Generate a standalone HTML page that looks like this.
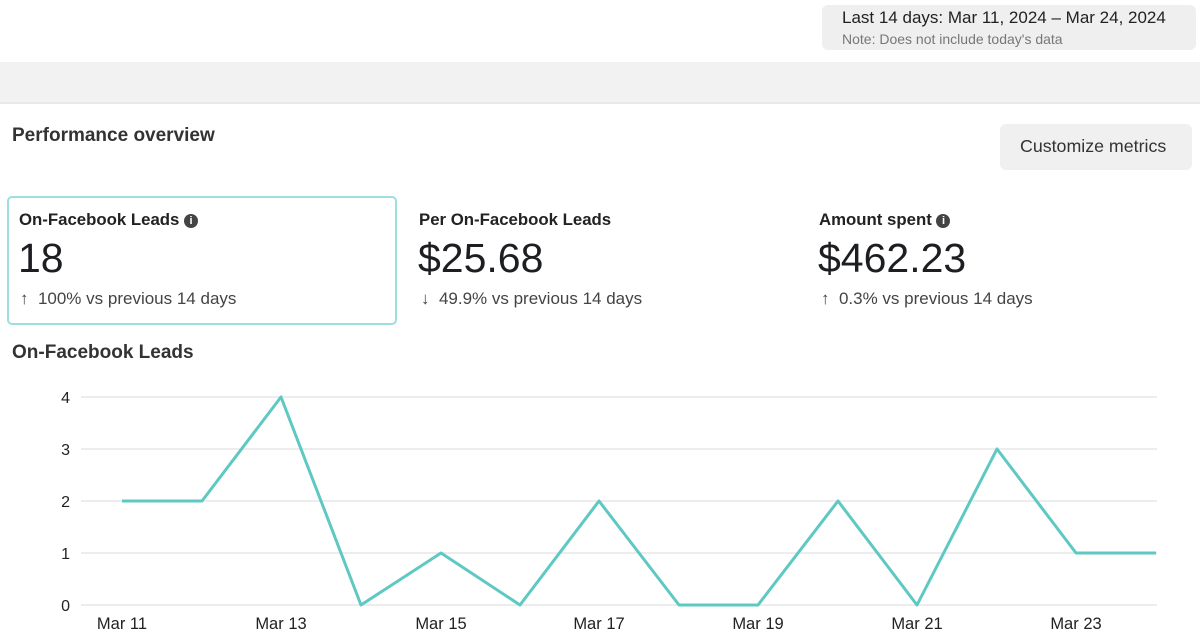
<!DOCTYPE html>
<html><head><style>
body{margin:0;width:1200px;height:643px;background:#fff;font-family:"Liberation Sans",sans-serif;color:#1c1e21;position:relative;overflow:hidden}
.a{position:absolute;white-space:nowrap}
.i{display:inline-block;width:14px;height:14px;border-radius:50%;background:#444;color:#fff;font-size:11px;text-align:center;line-height:14px;vertical-align:1px}
</style></head><body>
<div class="a" style="left:822px;top:5px;width:374px;height:45px;background:#efefef;border-radius:6px"></div>
<div class="a" style="left:842px;top:8px;font-size:17px;color:#222">Last 14 days: Mar 11, 2024 – Mar 24, 2024</div>
<div class="a" style="left:842px;top:31px;font-size:14px;color:#777">Note: Does not include today's data</div>
<div class="a" style="left:0;top:62px;width:1200px;height:40px;background:#f2f2f2;border-bottom:2px solid #e8e8e8"></div>
<div class="a" style="left:12px;top:125px;font-size:19px;font-weight:bold;color:#333">Performance overview</div>
<div class="a" style="left:1000px;top:124px;width:192px;height:46px;background:#f0f0f0;border-radius:6px"></div>
<div class="a" style="left:1020px;top:136px;font-size:17.8px;color:#333">Customize metrics</div>
<div class="a" style="left:7px;top:196px;width:386px;height:125px;border:2px solid #9bdfe0;border-radius:5px"></div>
<div class="a" style="left:19px;top:210px;font-size:16.8px;font-weight:bold;color:#222">On-Facebook Leads <span class="i">i</span></div>
<div class="a" style="left:18px;top:235px;font-size:41px;color:#1c1e21">18</div>
<div class="a" style="left:20px;top:289px;font-size:17px;color:#444">↑&nbsp; 100% vs previous 14 days</div>
<div class="a" style="left:419px;top:210px;font-size:16.8px;font-weight:bold;color:#222">Per On-Facebook Leads</div>
<div class="a" style="left:418px;top:235px;font-size:41px">$25.68</div>
<div class="a" style="left:421px;top:289px;font-size:17px;color:#444">↓&nbsp; 49.9% vs previous 14 days</div>
<div class="a" style="left:819px;top:210px;font-size:16.8px;font-weight:bold;color:#222">Amount spent <span class="i">i</span></div>
<div class="a" style="left:818px;top:235px;font-size:41px">$462.23</div>
<div class="a" style="left:821px;top:289px;font-size:17px;color:#444">↑&nbsp; 0.3% vs previous 14 days</div>
<div class="a" style="left:12px;top:342px;font-size:19px;font-weight:bold;color:#333">On-Facebook Leads</div>
<svg class="a" style="left:0;top:0" width="1200" height="643">
<g stroke="#e2e2e2" stroke-width="1.2">
<line x1="81" x2="1157" y1="397" y2="397"/><line x1="81" x2="1157" y1="449" y2="449"/><line x1="81" x2="1157" y1="501" y2="501"/><line x1="81" x2="1157" y1="553" y2="553"/><line x1="81" x2="1157" y1="605" y2="605"/></g>
<g font-family="Liberation Sans" font-size="16" fill="#222" text-anchor="end">
<text x="70" y="403">4</text><text x="70" y="455">3</text><text x="70" y="507">2</text><text x="70" y="559">1</text><text x="70" y="611">0</text></g>
<g font-family="Liberation Sans" font-size="16.5" fill="#222" text-anchor="middle">
<text x="122" y="629">Mar 11</text><text x="281" y="629">Mar 13</text><text x="441" y="629">Mar 15</text><text x="599" y="629">Mar 17</text><text x="758" y="629">Mar 19</text><text x="917" y="629">Mar 21</text><text x="1076" y="629">Mar 23</text></g>
<polyline fill="none" stroke="#5ec8c2" stroke-width="3" stroke-linejoin="round" points="122,501 202,501 281,397 361,605 441,553 520,605 599,501 679,605 758,605 838,501 917,605 997,449 1076,553 1156,553"/>
</svg>
</body></html>
